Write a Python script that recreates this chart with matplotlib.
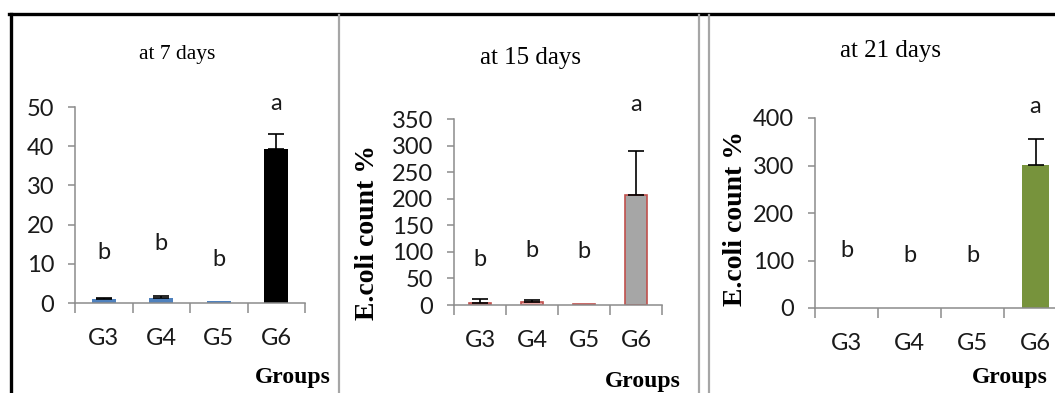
'''
E.coli count % per group at 7, 15 and 21 days (three cropped Excel panels)
'''

import matplotlib
matplotlib.use('Agg')
import matplotlib.pyplot as plt
from matplotlib.lines import Line2D

GROUPS = ['G3', 'G4', 'G5', 'G6']

DAY7_MEAN = [0.9, 1.3, 0.4, 39.2]
DAY7_ERR = [0.3, 0.5, 0.0, 3.9]
DAY7_LETTERS = ['b', 'b', 'b', 'a']
DAY7_LETTER_Y = [12.8, 15.1, 11.0, 50.8]

DAY15_MEAN = [3.0, 6.0, 2.0, 207.0]
DAY15_ERR = [8.0, 3.0, 0.0, 83.0]
DAY15_LETTERS = ['b', 'b', 'b', 'a']
DAY15_LETTER_Y = [85.0, 103.0, 100.0, 378.0]

DAY21_MEAN = [0.0, 0.0, 0.0, 301.0]
DAY21_ERR = [0.0, 0.0, 0.0, 55.0]
DAY21_LETTERS = ['b', 'b', 'b', 'a']
DAY21_LETTER_Y = [122.0, 111.0, 111.0, 425.0]

W, H = 1055, 393
SANS = ['Lato', 'DejaVu Sans']
SERIF = ['Liberation Serif', 'DejaVu Serif']
SPINE = '#8c8c8c'
TXT = '#1a1a1a'


def px_axes(fig, left, right, y0, ytop):
    '''add an axes given its pixel box (y measured from the top)'''
    return fig.add_axes([left / W, 1 - y0 / H, (right - left) / W, (y0 - ytop) / H])


def panel(ax, means, errs, letters, letter_y, ymax, ystep, colors, edges):
    '''draw one Excel style bar panel'''
    xs = list(range(len(GROUPS)))
    ax.bar(xs, means, width=0.42, color=colors, edgecolor=edges,
           linewidth=1.2 if edges else 0)
    # excel only draws the plus side, and nothing when the error is zero
    ex = [x_ for x_, e in zip(xs, errs) if e > 0]
    ey = [m for m, e in zip(means, errs) if e > 0]
    ee = [e for e in errs if e > 0]
    ax.errorbar(ex, ey, yerr=[[0] * len(ee), ee], fmt='none',
                ecolor='black', elinewidth=1.2, capsize=6, capthick=1.2)
    for x_, y_, lab in zip(xs, letter_y, letters):
        ax.text(x_, y_, lab, ha='center', va='center', fontsize=17,
                family=SANS, color=TXT, clip_on=False)
    ax.set_xlim(-0.5, len(GROUPS) - 0.5)
    ax.set_ylim(0, ymax)
    ax.set_yticks(range(0, ymax + 1, ystep))
    ax.set_xticks(xs)
    ax.set_xticklabels(GROUPS)
    ax.set_xticks([i - 0.5 for i in range(len(GROUPS) + 1)], minor=True)
    ax.tick_params(axis='x', which='major', length=0, pad=18, labelsize=17,
                   labelcolor=TXT)
    ax.tick_params(axis='x', which='minor', length=7, width=1.1,
                   color=SPINE, direction='out')
    ax.tick_params(axis='y', length=5, width=1.1, color=SPINE, pad=10,
                   labelsize=17, labelcolor=TXT)
    for lab in ax.get_xticklabels() + ax.get_yticklabels():
        lab.set_family(SANS)
    for side in ['top', 'right']:
        ax.spines[side].set_visible(False)
    for side in ['left', 'bottom']:
        ax.spines[side].set_color(SPINE)
        ax.spines[side].set_linewidth(1.1)
    ax.patch.set_alpha(0)


fig = plt.figure(figsize=(W / 100, H / 100), dpi=100)

ax1 = px_axes(fig, 75, 305, 303, 107)
panel(ax1, DAY7_MEAN, DAY7_ERR, DAY7_LETTERS, DAY7_LETTER_Y, 50, 10,
      ['#4f81bd', '#4f81bd', '#4f81bd', 'black'], None)

ax2 = px_axes(fig, 454, 662, 305, 119)
panel(ax2, DAY15_MEAN, DAY15_ERR, DAY15_LETTERS, DAY15_LETTER_Y, 350, 50,
      ['#eba9a7', '#eba9a7', '#eba9a7', '#a6a6a6'], '#c0504d')

ax3 = px_axes(fig, 815, 1067, 308, 118)
panel(ax3, DAY21_MEAN, DAY21_ERR, DAY21_LETTERS, DAY21_LETTER_Y, 400, 100,
      ['#77933c'] * 4, None)

# titles, axis names
fig.text(177 / W, 1 - 55 / H, 'at 7 days', ha='center', va='center',
         fontsize=15.5, family=SERIF)
fig.text(530 / W, 1 - 58 / H, 'at 15 days', ha='center', va='center',
         fontsize=18, family=SERIF)
fig.text(890 / W, 1 - 51 / H, 'at 21 days', ha='center', va='center',
         fontsize=18, family=SERIF)
for gx, gy in [(293, 378), (643, 381), (1010, 378)]:
    fig.text(gx / W, 1 - gy / H, 'Groups', ha='center', va='center',
             fontsize=17, family=SERIF, weight='bold')
for lx, ly in [(367, 232), (735, 218)]:
    fig.text(lx / W, 1 - ly / H, 'E.coli count %', ha='center', va='center',
             rotation=90, fontsize=20, family=SERIF, weight='bold')

# frame of the cropped figure sheet
fig.add_artist(Line2D([9 / W, 1], [1 - 13.5 / H] * 2, color='black', lw=2.4))
fig.add_artist(Line2D([10.5 / W] * 2, [0, 1 - 13.5 / H], color='black', lw=2.4))
for sx in [339, 699, 709]:
    fig.add_artist(Line2D([sx / W] * 2, [0, 1 - 15 / H], color='#a6a6a6', lw=1.6))

fig.savefig('out.png', dpi=100)
